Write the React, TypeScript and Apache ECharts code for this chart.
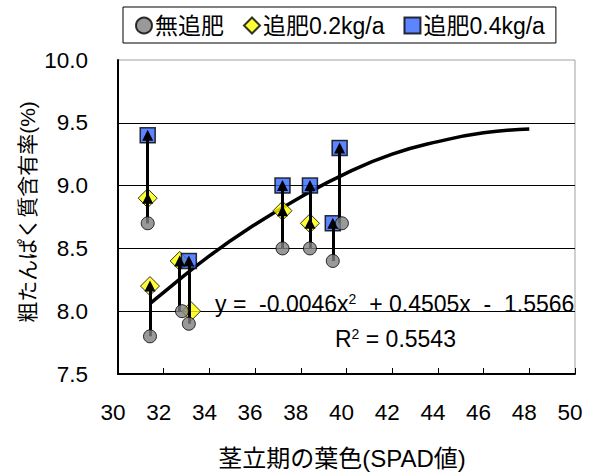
import React, { useEffect, useRef } from 'react';
import * as echarts from 'echarts';

const FONT = "'Liberation Sans', Arial, 'Noto Sans CJK JP', sans-serif";

const seriesNames = ['無追肥', '追肥0.2kg/a', '追肥0.4kg/a'];

// [SPAD, protein %]
const noFert = [
  [31.3, 8.7], [31.4, 7.8], [32.8, 8.0], [33.1, 7.9],
  [37.2, 8.5], [38.4, 8.5], [39.4, 8.4], [39.8, 8.7],
];
const fert02 = [
  [31.3, 8.9], [31.4, 8.2], [32.7, 8.4], [33.2, 8.0],
  [37.2, 8.8], [38.4, 8.7],
];
const fert04 = [
  [31.3, 9.4], [33.1, 8.4], [37.2, 9.0], [38.4, 9.0],
  [39.4, 8.7], [39.7, 9.3],
];
// arrows: [index in noFert, index in target series]
const arrowsTo02 = [[0, 0], [1, 1], [2, 2], [4, 4], [5, 5]];
const arrowsTo04 = [[0, 0], [3, 1], [4, 2], [5, 3], [6, 4], [7, 5]];

// trend curve
const trendCurve = [
  [31.4, 8.06], [32, 8.15], [34, 8.44], [36, 8.69], [38, 8.91],
  [40, 9.1], [42, 9.25], [44, 9.35], [46, 9.42], [48, 9.45],
];

const eqText = ['y =  -0.0046x', '2', '  + 0.4505x  -  1.5566'];
const r2Text = ['R', '2', ' = 0.5543'];

const xTitle = '茎立期の葉色(SPAD値)';
const yTitle = '粗たんぱく質含有率(%)';

export default function App() {
  const ref = useRef<HTMLDivElement>(null);
  useEffect(() => {
    if (!ref.current) return;
    const chart = echarts.init(ref.current, undefined, { renderer: 'svg' });
    const arrowData = [
      ...arrowsTo02.map(([c, t]) => ({ coords: [[fert02[t][0], noFert[c][1]], fert02[t]] })),
      ...arrowsTo04.map(([c, t]) => ({ coords: [[fert04[t][0], noFert[c][1]], fert04[t]] })),
    ];
    const rich = {
      a: { fontSize: 23, lineHeight: 24, fontFamily: FONT, color: '#000' },
      s: { fontSize: 14, lineHeight: 12, fontFamily: FONT, color: '#000', verticalAlign: 'top' },
    };
    chart.setOption({
      animation: false,
      backgroundColor: '#fff',
      textStyle: { fontFamily: FONT },
      grid: {
        left: 118, right: 17, top: 60, bottom: 99,
        show: true, borderColor: '#a0a0a0', borderWidth: 1,
      },
      legend: {
        left: 123, top: 7,
        data: seriesNames,
        itemWidth: 16, itemHeight: 16, itemGap: 19,
        borderColor: '#000', borderWidth: 1,
        padding: [7, 11, 6, 12],
        textStyle: { fontSize: 23, color: '#000', fontFamily: FONT, padding: [0, 0, 0, -2] },
      },
      xAxis: {
        type: 'value', min: 30, max: 50, interval: 2,
        axisLine: { onZero: false, lineStyle: { color: '#000', width: 2 } },
        axisTick: { inside: true, length: 6, lineStyle: { color: '#000' } },
        axisLabel: { fontSize: 22.5, color: '#000', margin: 27, padding: [0, 10, 0, 0], fontFamily: FONT },
        splitLine: { show: false },
      },
      yAxis: {
        type: 'value', min: 7.5, max: 10, interval: 0.5,
        axisLine: { show: true, onZero: false, lineStyle: { color: '#000', width: 2 } },
        axisTick: { show: false },
        axisLabel: {
          fontSize: 22.5, color: '#000', margin: 30, padding: [6, 0, 0, 0], fontFamily: FONT,
          formatter: (v: number) => v.toFixed(1),
        },
        splitLine: { show: true, showMaxLine: false, lineStyle: { color: '#000', width: 1 } },
      },
      graphic: [
        {
          type: 'text', x: 27, y: 212, rotation: Math.PI / 2,
          style: { text: yTitle, fontSize: 21, fontFamily: FONT, fill: '#000', align: 'center', verticalAlign: 'middle' },
        },
        {
          type: 'text', x: 342, y: 458,
          style: { text: xTitle, fontSize: 24, fontFamily: FONT, fill: '#000', align: 'center', verticalAlign: 'middle' },
        },
        {
          type: 'text', x: 215, y: 304, z: 10,
          style: {
            text: `{a|${eqText[0]}}{s|${eqText[1]}}{a|${eqText[2]}}`,
            rich, verticalAlign: 'middle', align: 'left',
          },
        },
        {
          type: 'text', x: 335, y: 339, z: 10,
          style: {
            text: `{a|${r2Text[0]}}{s|${r2Text[1]}}{a|${r2Text[2]}}`,
            rich, verticalAlign: 'middle', align: 'left',
          },
        },
      ],
      series: [
        {
          type: 'line', data: trendCurve, smooth: true, symbol: 'none', z: 1,
          lineStyle: { color: '#000', width: 3.5 }, silent: true, tooltip: { show: false },
        },
        {
          name: seriesNames[1], type: 'scatter', data: fert02, symbol: 'diamond', symbolSize: 19, z: 2,
          itemStyle: { color: '#ffff00', borderColor: '#000', borderWidth: 1 },
        },
        {
          name: seriesNames[2], type: 'scatter', data: fert04, symbol: 'rect', symbolSize: 15, z: 2,
          itemStyle: { color: '#3366ff', borderColor: '#000', borderWidth: 1.5 },
        },
        {
          type: 'lines', coordinateSystem: 'cartesian2d', data: arrowData, z: 3,
          symbol: ['none', 'triangle'], symbolSize: 11,
          lineStyle: { color: '#000', width: 3, opacity: 1 },
          itemStyle: { color: '#000' },
        },
        {
          name: seriesNames[0], type: 'scatter', data: noFert, symbol: 'circle', symbolSize: 13, z: 4,
          itemStyle: { color: '#808080', borderColor: '#000', borderWidth: 1 },
        },
      ],
    });
    return () => chart.dispose();
  }, []);
  return <div ref={ref} style={{ position: 'absolute', left: 0, top: 0, width: 592, height: 473 }} />;
}
